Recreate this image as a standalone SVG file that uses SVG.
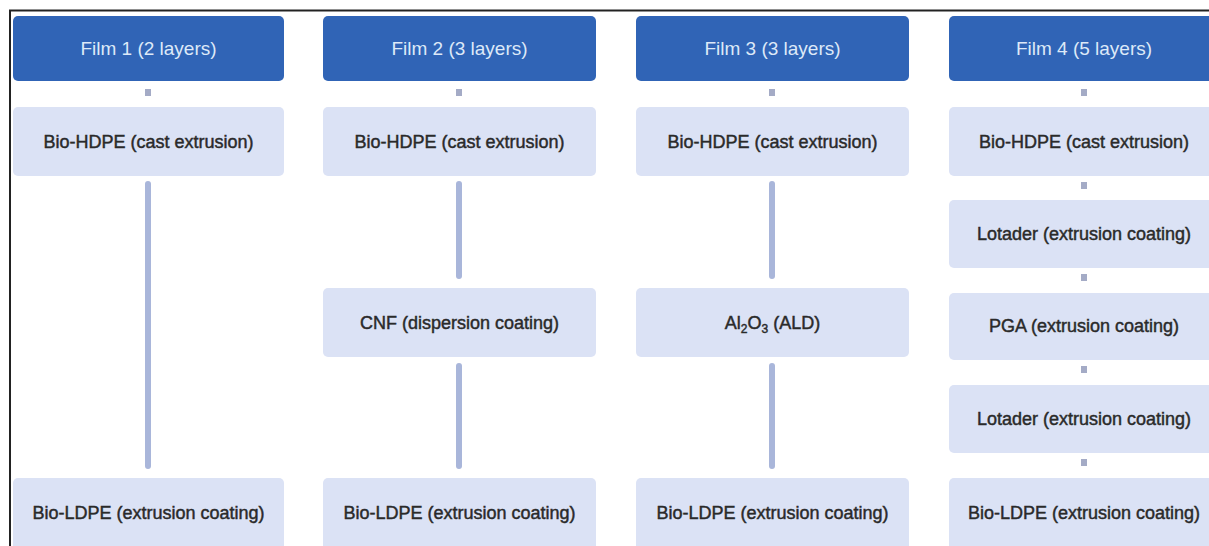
<svg xmlns="http://www.w3.org/2000/svg" width="1209" height="546" viewBox="0 0 1209 546">
<style>
.hdr{fill:#3064b6}
.box{fill:#dbe2f5}
.ht{fill:#dde9f8;font-family:"Liberation Sans",Arial,sans-serif;font-size:19px;text-anchor:middle}
.bt{fill:#2a2a2a;stroke:#2a2a2a;stroke-width:0.45;font-family:"Liberation Sans",Arial,sans-serif;font-size:18px;text-anchor:middle}
.ln{stroke:#a9b6da;stroke-width:6;stroke-linecap:round}
.sq{fill:#a4abc6}
</style>
<rect width="1209" height="546" fill="#ffffff"/>
<path d="M10 546 V10.5 H1209" fill="none" stroke="#222222" stroke-width="2"/>

<g id="connectors">
<rect class="sq" x="145" y="89" width="6" height="7"/>
<line class="ln" x1="148" y1="184" x2="148" y2="466"/>
<rect class="sq" x="456" y="89" width="6" height="7"/>
<line class="ln" x1="459" y1="184" x2="459" y2="276"/>
<line class="ln" x1="459" y1="366" x2="459" y2="466"/>
<rect class="sq" x="769" y="89" width="6" height="7"/>
<line class="ln" x1="772" y1="184" x2="772" y2="276"/>
<line class="ln" x1="772" y1="366" x2="772" y2="466"/>
<rect class="sq" x="1081" y="89" width="6" height="7"/>
<rect class="sq" x="1081" y="182" width="6" height="7"/>
<rect class="sq" x="1081" y="274" width="6" height="7"/>
<rect class="sq" x="1081" y="366" width="6" height="7"/>
<rect class="sq" x="1081" y="459" width="6" height="7"/>
</g>

<g id="film1-header"><rect class="hdr" x="13" y="16" width="271" height="65" rx="5"/><text class="ht" x="148.5" y="55">Film 1 (2 layers)</text></g>
<g id="film1-hdpe"><rect class="box" x="13" y="107" width="271" height="69" rx="5"/><text class="bt" x="148.5" y="148">Bio-HDPE (cast extrusion)</text></g>
<g id="film1-ldpe"><rect class="box" x="13" y="478" width="271" height="75" rx="5"/><text class="bt" x="148.5" y="519">Bio-LDPE (extrusion coating)</text></g>

<g id="film2-header"><rect class="hdr" x="323" y="16" width="273" height="65" rx="5"/><text class="ht" x="459.5" y="55">Film 2 (3 layers)</text></g>
<g id="film2-hdpe"><rect class="box" x="323" y="107" width="273" height="69" rx="5"/><text class="bt" x="459.5" y="148">Bio-HDPE (cast extrusion)</text></g>
<g id="film2-cnf"><rect class="box" x="323" y="288" width="273" height="69" rx="5"/><text class="bt" x="459.5" y="329">CNF (dispersion coating)</text></g>
<g id="film2-ldpe"><rect class="box" x="323" y="478" width="273" height="75" rx="5"/><text class="bt" x="459.5" y="519">Bio-LDPE (extrusion coating)</text></g>

<g id="film3-header"><rect class="hdr" x="636" y="16" width="273" height="65" rx="5"/><text class="ht" x="772.5" y="55">Film 3 (3 layers)</text></g>
<g id="film3-hdpe"><rect class="box" x="636" y="107" width="273" height="69" rx="5"/><text class="bt" x="772.5" y="148">Bio-HDPE (cast extrusion)</text></g>
<g id="film3-al2o3"><rect class="box" x="636" y="288" width="273" height="69" rx="5"/><text class="bt" x="772.5" y="329">Al<tspan font-size="12" dy="4">2</tspan><tspan dy="-4">O</tspan><tspan font-size="12" dy="4">3</tspan><tspan dy="-4"> (ALD)</tspan></text></g>
<g id="film3-ldpe"><rect class="box" x="636" y="478" width="273" height="75" rx="5"/><text class="bt" x="772.5" y="519">Bio-LDPE (extrusion coating)</text></g>

<g id="film4-header"><rect class="hdr" x="949" y="16" width="273" height="65" rx="5"/><text class="ht" x="1084" y="55">Film 4 (5 layers)</text></g>
<g id="film4-hdpe"><rect class="box" x="949" y="107" width="273" height="69" rx="5"/><text class="bt" x="1084" y="148">Bio-HDPE (cast extrusion)</text></g>
<g id="film4-lotader1"><rect class="box" x="949" y="200" width="273" height="68" rx="5"/><text class="bt" x="1084" y="240">Lotader (extrusion coating)</text></g>
<g id="film4-pga"><rect class="box" x="949" y="293" width="273" height="67" rx="5"/><text class="bt" x="1084" y="332">PGA (extrusion coating)</text></g>
<g id="film4-lotader2"><rect class="box" x="949" y="385" width="273" height="68" rx="5"/><text class="bt" x="1084" y="425">Lotader (extrusion coating)</text></g>
<g id="film4-ldpe"><rect class="box" x="949" y="478" width="273" height="75" rx="5"/><text class="bt" x="1084" y="519">Bio-LDPE (extrusion coating)</text></g>
</svg>
